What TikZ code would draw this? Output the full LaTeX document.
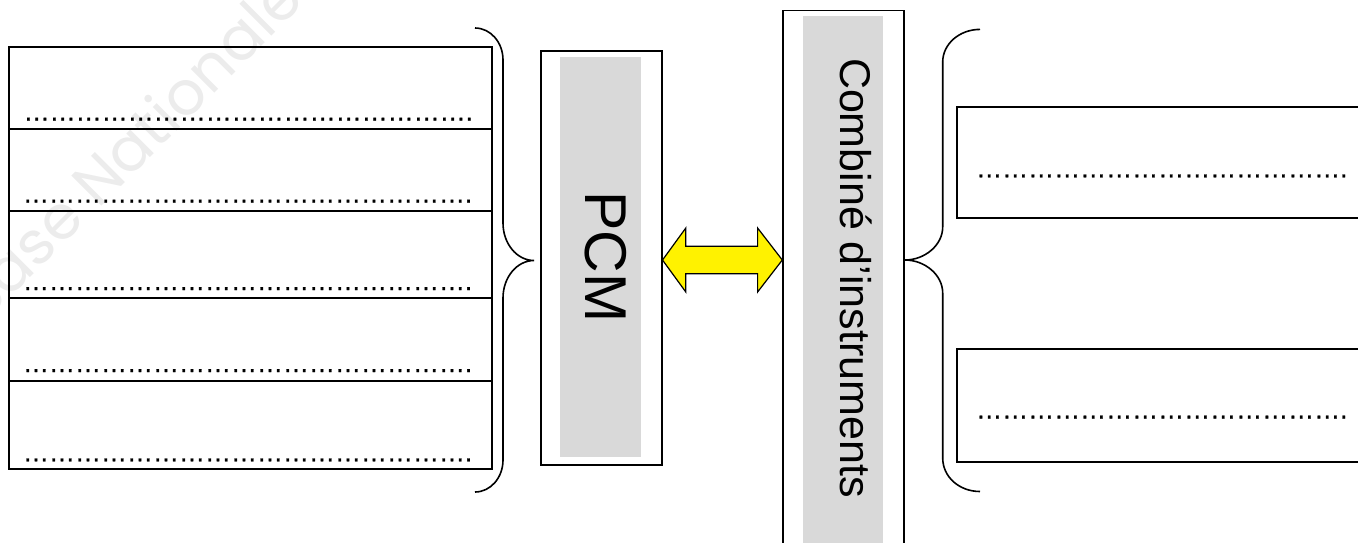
\documentclass[tikz,border=0pt]{standalone}
\usepackage{fontspec}
\usetikzlibrary{calc}
\setmainfont{Liberation Sans}
\newfontfamily\wmfont{Poppins}
\newfontfamily\dotfont{Liberation Sans}[FakeBold=1]
\definecolor{boxgray}{HTML}{D9D9D9}
\definecolor{wmgray}{HTML}{ECECEC}
\newcommand\dotsrow[1]{\foreach \k in {1,...,#1}{\char"2026}.}
\tikzset{
  rowbox/.style={draw, line width=2pt, rectangle, minimum width=483pt, anchor=north west, inner sep=0pt},
  framebox/.style={draw, line width=1.5pt, rectangle, anchor=north west, inner sep=0pt},
  graybox/.style={fill=boxgray, rectangle, anchor=north west, inner sep=0pt},
  dotline/.style={anchor=base west, inner sep=0pt, font=\dotfont\fontsize{26}{28}\selectfont},
  brace/.style={line width=1.6pt},
  vlabel/.style={rotate=-90, anchor=base, inner sep=0pt},
}
\begin{document}
\begin{tikzpicture}[x=1pt, y=-1pt]
\useasboundingbox (0,0) rectangle (1358,542);
% watermark
\begin{scope}
\clip (0,0) rectangle (1358,542);
\node[rotate=45, anchor=base, inner sep=0pt, text=wmgray, font=\wmfont\fontsize{61}{64}\selectfont] (wm) at (144,164) {Base Nationale};
\end{scope}
% left table
\node[rowbox, minimum height=82pt] (r1) at (8,46) {};
\node[rowbox, minimum height=82pt] (r2) at (8,128) {};
\node[rowbox, minimum height=87pt] (r3) at (8,210) {};
\node[rowbox, minimum height=83pt] (r4) at (8,297) {};
\node[rowbox, minimum height=88pt] (r5) at (8,380) {};
\node[dotline] (d1) at (23.5,120.6) {\dotsrow{17}};
\node[dotline] (d2) at (22.8,202.6) {\dotsrow{17}};
\node[dotline] (d3) at (22.8,290.0) {\dotsrow{17}};
\node[dotline] (d4) at (22.8,372.0) {\dotsrow{17}};
\node[dotline] (d5) at (22.8,461.3) {\dotsrow{17}};
% left brace
\coordinate (lbt) at (475,28);
\coordinate (lbb) at (475,492);
\coordinate (lbtip) at (534,260.5);
\draw[brace] (lbt) .. controls (490.5,28) and (503,42.3) .. (503,60)
  -- (503,223) .. controls (503,243.7) and (516.9,260.5) .. (lbtip)
  .. controls (516.9,260.5) and (503,277.3) .. (503,298)
  -- (503,460) .. controls (503,477.7) and (490.5,492) .. (lbb);
% PCM
\node[framebox, minimum width=121pt, minimum height=414pt] (pcm) at (540,50) {};
\node[graybox, minimum width=81pt, minimum height=400pt] (pcmg) at (560,57) {};
\node[vlabel, font=\fontsize{59}{62}\selectfont] (pcmt) at (585,256.7) {PCM};
% Combine
\node[framebox, minimum width=121pt, minimum height=560pt] (comb) at (782.3,9.6) {};
\node[graybox, minimum width=80.4pt, minimum height=560pt] (combg) at (802.3,15.9) {};
\node[vlabel, font=\fontsize{43}{46}\selectfont] (combt) at (840,277.9) {Combiné d’instruments};
% double arrow
\coordinate (al) at (pcm.east |- 0,260);
\coordinate (ar) at (comb.west |- 0,260);
\draw[line width=1.2pt, fill=yellow, line join=miter]
  (al) -- ++(23.3,-32) -- ++(0,18.25) -- ($(ar)+(-24.7,-13.75)$) -- ++(0,-18.25) -- (ar)
  -- ++(-24.7,32) -- ++(0,-18.25) -- ($(al)+(23.3,13.75)$) -- ++(0,18.25) -- cycle;
% right brace
\coordinate (rbt) at (980,29.4);
\coordinate (rbb) at (980,491.5);
\coordinate (rbtip) at (comb.east |- 0,260);
\draw[brace] (rbt) .. controls (959.4,29.4) and (942.7,44) .. (942.7,62)
  -- (942.7,227) .. controls (942.7,245) and (925,260) .. (rbtip)
  .. controls (925,260) and (942.7,275) .. (942.7,293)
  -- (942.7,458) .. controls (942.7,477) and (959.4,491.5) .. (rbb);
% right boxes
\node[framebox, minimum width=420pt, minimum height=111pt] (b1) at (956,106) {};
\node[framebox, minimum width=420pt, minimum height=113pt] (b2) at (956,348) {};
\node[dotline] (e1) at (976,177.3) {\dotsrow{14}};
\node[dotline] (e2) at (976,418.5) {\dotsrow{14}};
\end{tikzpicture}
\end{document}
